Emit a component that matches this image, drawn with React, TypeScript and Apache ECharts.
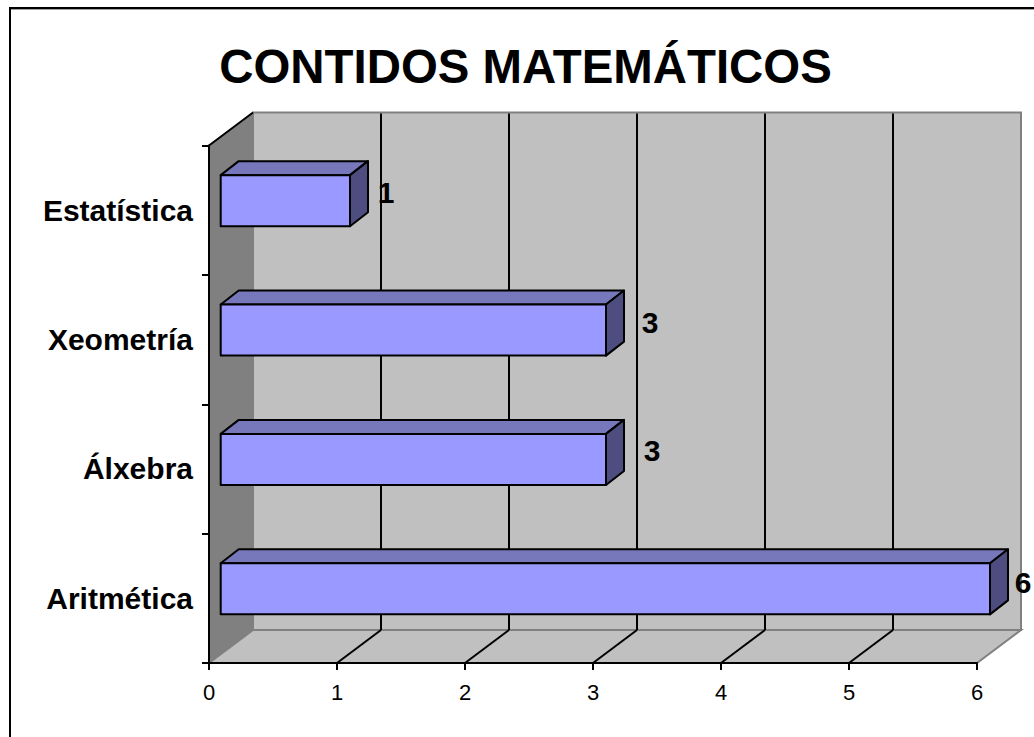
import React, { useEffect, useRef } from "react";
import * as echarts from "echarts";

const titleText = "CONTIDOS MATEMÁTICOS";
const categories = ["Aritmética", "Álxebra", "Xeometría", "Estatística"];
const values = [6, 3, 3, 1];
const tickValues = [0, 1, 2, 3, 4, 5, 6];

// Hand placement of the value labels relative to each bar's front right edge
const labelDx = [33, 46, 44, 36];
const labelDy = [-6, -9, -8, -8];

const FONT = '"Liberation Sans", Arial, sans-serif';
const DEPTH_X = 44;
const DEPTH_Y = 33;
const BAR_DX = 18;
const BAR_DY = 14;

export default function App() {
  const ref = useRef<HTMLDivElement>(null);

  useEffect(() => {
    const chart = echarts.init(ref.current!, undefined, { renderer: "svg" });

    const renderWalls = (params: any, api: any) => {
      const cs = params.coordSys;
      const x0 = cs.x;
      const x1 = cs.x + cs.width;
      const yT = cs.y;
      const yB = cs.y + cs.height;
      const children: any[] = [];
      const gray = "#808080";
      children.push({
        type: "polygon",
        shape: { points: [[x0 + DEPTH_X, yT - DEPTH_Y], [x1 + DEPTH_X, yT - DEPTH_Y], [x1 + DEPTH_X, yB - DEPTH_Y], [x0 + DEPTH_X, yB - DEPTH_Y]] },
        style: { fill: "#c0c0c0", stroke: gray, lineWidth: 2 },
      });
      children.push({
        type: "polygon",
        shape: { points: [[x0, yB], [x0 + DEPTH_X, yB - DEPTH_Y], [x1 + DEPTH_X, yB - DEPTH_Y], [x1, yB]] },
        style: { fill: "#c0c0c0", stroke: gray, lineWidth: 2 },
      });
      children.push({
        type: "polygon",
        shape: { points: [[x0, yT], [x0 + DEPTH_X, yT - DEPTH_Y], [x0 + DEPTH_X, yB - DEPTH_Y], [x0, yB]] },
        style: { fill: "#808080", stroke: gray, lineWidth: 1 },
      });
      children.push({
        type: "line",
        shape: { x1: x0, y1: yT, x2: x0 + DEPTH_X, y2: yT - DEPTH_Y },
        style: { stroke: "#000", lineWidth: 2 },
      });
      tickValues.slice(1, -1).forEach((t) => {
        const x = api.coord([t, 0])[0];
        children.push({
          type: "line",
          shape: { x1: x + DEPTH_X, y1: yT - DEPTH_Y + 1, x2: x + DEPTH_X, y2: yB - DEPTH_Y },
          style: { stroke: "#000", lineWidth: 2 },
        });
        children.push({
          type: "line",
          shape: { x1: x, y1: yB, x2: x + DEPTH_X, y2: yB - DEPTH_Y },
          style: { stroke: "#000", lineWidth: 2 },
        });
      });
      return { type: "group", children };
    };

    const renderBar = (params: any, api: any) => {
      const idx = params.dataIndex;
      const v = api.value(0);
      const c = api.value(1);
      const band = api.size([0, 1])[1];
      const center = api.coord([v, c]);
      const zero = api.coord([0, c]);
      const h = band * 0.395;
      const xa = zero[0] + 11.7;
      const xb = center[0] + 13;
      const yMid = center[1] - 9.5;
      const ya = yMid - h / 2;
      const yb = yMid + h / 2;
      const line = { stroke: "#000", lineWidth: 2, lineJoin: "round" };
      return {
        type: "group",
        children: [
          {
            type: "polygon",
            shape: { points: [[xa, ya], [xa + BAR_DX, ya - BAR_DY], [xb + BAR_DX, ya - BAR_DY], [xb, ya]] },
            style: { fill: "#7777bb", ...line },
          },
          {
            type: "polygon",
            shape: { points: [[xb, ya], [xb + BAR_DX, ya - BAR_DY], [xb + BAR_DX, yb - BAR_DY], [xb, yb]] },
            style: { fill: "#4d4d80", ...line },
          },
          {
            type: "polygon",
            shape: { points: [[xa, ya], [xb, ya], [xb, yb], [xa, yb]] },
            style: { fill: "#9999ff", ...line },
          },
          {
            type: "text",
            x: xb + labelDx[idx],
            y: yMid + labelDy[idx],
            style: {
              text: String(v),
              fill: "#000",
              font: `bold 30px ${FONT}`,
              align: "center",
              verticalAlign: "middle",
            },
          },
        ],
      };
    };

    chart.setOption({
      animation: false,
      backgroundColor: "#fff",
      title: {
        text: titleText,
        left: 520.5,
        top: 38,
        textAlign: "center",
        textStyle: { fontFamily: FONT, fontWeight: "bold", fontSize: 47.4, color: "#000" },
      },
      grid: { left: 209, top: 145.5, width: 768, height: 517.5, containLabel: false },
      xAxis: {
        type: "value",
        min: 0,
        max: 6,
        interval: 1,
        z: 5,
        axisLine: { show: true, lineStyle: { color: "#000", width: 2 } },
        axisTick: { show: true, length: 7, lineStyle: { color: "#000", width: 2 } },
        axisLabel: { fontFamily: FONT, fontSize: 22, color: "#000", margin: 18 },
        splitLine: { show: false },
      },
      yAxis: {
        type: "category",
        data: categories,
        z: 5,
        axisLine: { show: true, lineStyle: { color: "#000", width: 2 } },
        axisTick: { show: true, length: 7, lineStyle: { color: "#000", width: 2 } },
        axisLabel: { fontFamily: FONT, fontSize: 30, fontWeight: "bold", color: "#000", margin: 16, padding: [2, 0, 0, 0] },
        splitLine: { show: false },
      },
      graphic: [
        {
          type: "polyline",
          shape: { points: [[10, 737], [10, 8], [1034, 8]] },
          style: { fill: "none", stroke: "#000", lineWidth: 2 },
        },
        {
          type: "line",
          shape: { x1: 11, y1: 9.5, x2: 1034, y2: 9.5 },
          style: { stroke: "#a0a0a0", lineWidth: 1 },
        },
      ],
      series: [
        {
          type: "custom",
          name: "walls",
          z: 1,
          silent: true,
          clip: false,
          renderItem: renderWalls,
          data: [[0, 0]],
          encode: { x: 0, y: 1 },
        },
        {
          type: "custom",
          name: "bars",
          z: 2,
          clip: false,
          renderItem: renderBar,
          data: values.map((v, i) => [v, i]),
          encode: { x: 0, y: 1 },
        },
      ],
    });

    return () => chart.dispose();
  }, []);

  return (
    <div
      ref={ref}
      style={{ position: "absolute", left: 0, top: 0, width: 1034, height: 737, background: "#fff" }}
    />
  );
}
